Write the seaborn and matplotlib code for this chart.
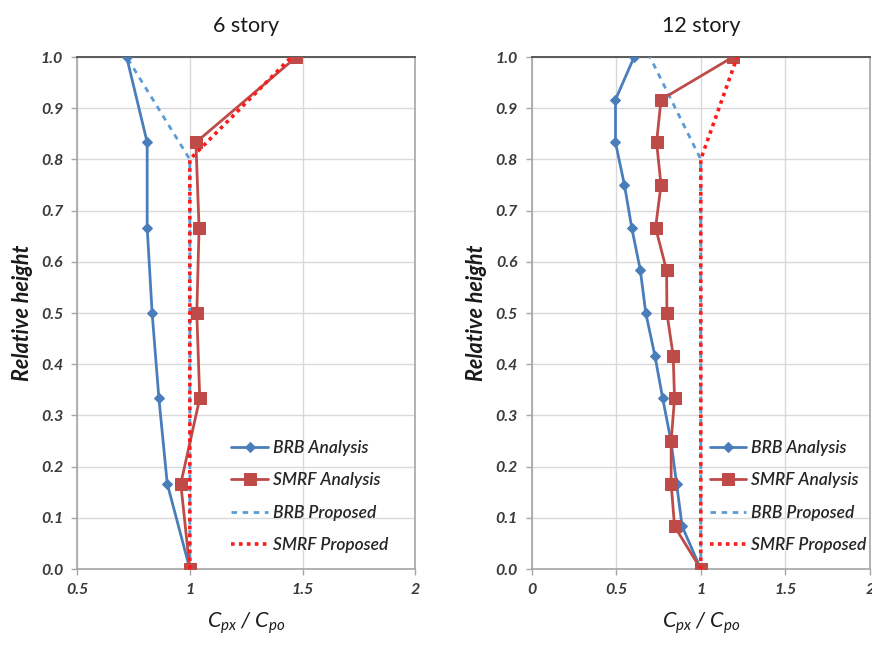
import numpy as np
import pandas as pd
import matplotlib
matplotlib.use("Agg")
import matplotlib.pyplot as plt
import seaborn as sns

# ---- data ----
h6 = [0, 1/6, 2/6, 3/6, 4/6, 5/6, 1.0]
brb6 = [1.0, 0.90, 0.863, 0.833, 0.811, 0.811, 0.72]
smrf6 = [1.0, 0.96, 1.044, 1.031, 1.041, 1.027, 1.472]

h12 = [i / 12 for i in range(13)]
brb12 = [1.0, 0.89, 0.857, 0.824, 0.775, 0.729, 0.675, 0.643, 0.592, 0.549, 0.496, 0.496, 0.606]
smrf12 = [1.0, 0.845, 0.825, 0.825, 0.845, 0.837, 0.80, 0.798, 0.733, 0.765, 0.739, 0.765, 1.19]

hprop = [0.0, 0.8, 1.0]
brb_prop6 = [1.0, 1.0, 0.72]
smrf_prop6 = [1.0, 1.0, 1.45]
brb_prop12 = [1.0, 1.0, 0.70]
smrf_prop12 = [1.0, 1.0, 1.215]

titles = ["6 story", "12 story"]
xlims = [(0.5, 2.0), (0.0, 2.0)]

sns.set_theme(style="white")
plt.rcParams["font.family"] = ["Lato", "DejaVu Sans"]
plt.rcParams["mathtext.fontset"] = "custom"
plt.rcParams["mathtext.it"] = "Lato:italic"
plt.rcParams["mathtext.rm"] = "Lato"

blue = "#4a7ebb"
red = "#be4b48"
blue_prop = "#5b9bd5"
red_prop = "#ff1a1a"

fig, axes = plt.subplots(1, 2, figsize=(8.72, 6.45), dpi=100)
fig.subplots_adjust(left=0.0883, right=0.9977, top=0.9116, bottom=0.1178, wspace=0.343)

panels = [
    (h6, brb6, smrf6, brb_prop6, smrf_prop6),
    (h12, brb12, smrf12, brb_prop12, smrf_prop12),
]

for ax, (h, brb, smrf, bp, sp), title, xl in zip(axes, panels, titles, xlims):
    sns.lineplot(x=brb, y=h, ax=ax, orient="y", sort=False, estimator=None,
                 color=blue, lw=2, marker="D", markersize=5, mec=blue,
                 label="BRB Analysis", zorder=4)
    sns.lineplot(x=smrf, y=h, ax=ax, orient="y", sort=False, estimator=None,
                 color=red, lw=2, marker="s", markersize=8, mec=red,
                 label="SMRF Analysis", zorder=5)
    sns.lineplot(x=bp, y=hprop, ax=ax, orient="y", sort=False, estimator=None,
                 color=blue_prop, lw=2, linestyle=(0, (2, 2)),
                 label="BRB Proposed", zorder=3)
    sns.lineplot(x=sp, y=hprop, ax=ax, orient="y", sort=False, estimator=None,
                 color=red_prop, lw=2.6, linestyle=(0, (1, 1.2)),
                 label="SMRF Proposed", zorder=6)

    xt = np.arange(xl[0], 2.01, 0.5)
    yt = np.arange(0, 1.01, 0.1)
    ax.set_xlim(*xl)
    ax.set_ylim(0, 1.0)
    ax.set_xticks(xt)
    ax.set_xticklabels([f"{v:g}" for v in xt], fontweight="bold",
                       fontstyle="italic", fontsize=11.5, color="#3a3a3a")
    ax.set_yticks(yt)
    ax.set_yticklabels([f"{v:.1f}" for v in yt], fontweight="bold",
                       fontstyle="italic", fontsize=11.5, color="#3a3a3a")
    ax.grid(True, color="#d9d9d9", lw=1)
    ax.set_axisbelow(True)
    for s in ["left", "bottom", "right"]:
        ax.spines[s].set_color("#a6a6a6")
        ax.spines[s].set_linewidth(1.2)
    ax.spines["top"].set_color("#595959")
    ax.spines["top"].set_linewidth(1.4)
    ax.tick_params(axis="both", which="major", length=4, width=1, color="#a6a6a6",
                   direction="out", left=True, bottom=True, pad=6)

    ax.set_title(title, fontsize=15.5, pad=18, color="#1a1a1a")
    ax.set_ylabel("Relative height", fontsize=15.5, fontweight="bold",
                  fontstyle="italic", color="#1a1a1a", labelpad=6)
    ax.set_xlabel(r"$C_{px}$ / $C_{po}$", fontsize=15.5, fontstyle="italic",
                  color="#1a1a1a", labelpad=10)

    leg = ax.legend(loc="lower left", bbox_to_anchor=(0.41 if xl[0] > 0 else 0.48, 0.0),
                    frameon=False, handlelength=2.1, handletextpad=0.3,
                    labelspacing=0.95,
                    prop={"style": "italic", "size": 12.5, "weight": "semibold"})
    for t in leg.get_texts():
        t.set_color("#262626")

fig.savefig("out.png", dpi=100)
